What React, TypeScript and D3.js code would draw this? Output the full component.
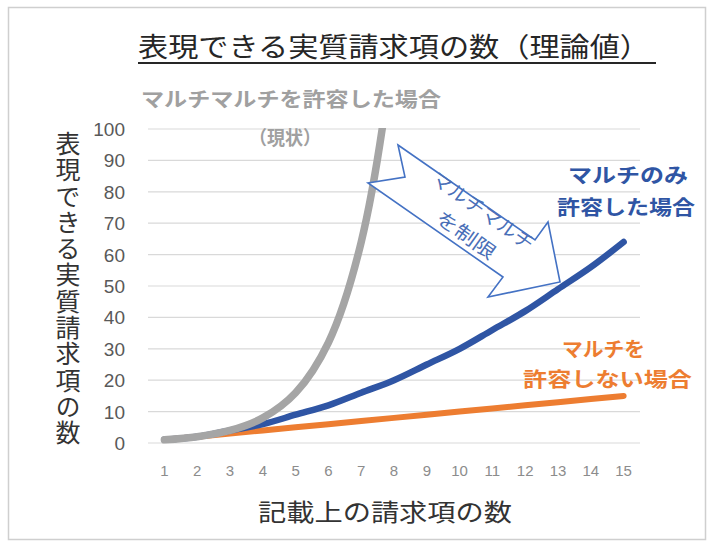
import React from "react";
import * as d3 from "d3";

const categories = ["1","2","3","4","5","6","7","8","9","10","11","12","13","14","15"];
const noMulti = [1,2,3,4,5,6,7,8,9,10,11,12,13,14,15];
const multiOnly = [1,2,4,6,9,12,16,20,25,30,36,42,49,56,64];
const multiMulti = [1,2,4,8,16,32,64,128,256,512,1024,2048,4096,8192,16384];
const yTicks = [0,10,20,30,40,50,60,70,80,90,100];

const title = "表現できる実質請求項の数（理論値）";
const yTitle = "表現できる実質請求項の数";
const xTitle = "記載上の請求項の数";

const JP = "'Noto Sans CJK JP', 'Noto Sans', sans-serif";
const NUM = "'Liberation Sans', Arial, sans-serif";

export default function App() {
  const W = 709, H = 544;
  const plot = { left: 148, right: 640, top: 129, bottom: 443 };
  const x = d3.scaleBand<string>().domain(categories).range([plot.left, plot.right]).padding(0);
  const cx = (c: string) => (x(c) as number) + x.bandwidth() / 2;
  const y = d3.scaleLinear().domain([0, 100]).range([plot.bottom, plot.top]);

  const mk = (vals: number[], curve: any) =>
    d3.line<number>().x((_, i) => cx(categories[i])).y((v) => y(v)).curve(curve)(vals) || "";

  const grayPath = mk(multiMulti, d3.curveCatmullRom.alpha(0.5));
  const bluePath = mk(multiOnly, d3.curveCatmullRom.alpha(0.5));
  const orangePath = mk(noMulti, d3.curveLinear);

  const arrowPts: [number, number][] = [
    [398, 145], [535, 240], [548, 222], [560, 282], [488, 297], [503, 277], [368, 183], [405, 177],
  ];

  return (
    <svg width={W} height={H} style={{ position: "absolute", left: 0, top: 0, background: "#fff" }}>
      <rect x={8.5} y={7.5} width={697} height={532} fill="#fff" stroke="#cfcfcf" strokeWidth={1.5} />
      {/* title */}
      <text x={138} y={57} fontFamily={JP} fontSize={27} fill="#262626" textLength={512} lengthAdjust="spacingAndGlyphs">{title}</text>
      <line x1={138} x2={656} y1={63} y2={63} stroke="#262626" strokeWidth={2} />

      {/* gridlines */}
      {yTicks.map((t) => (
        <line key={t} x1={plot.left} x2={plot.right} y1={y(t)} y2={y(t)} stroke="#d9d9d9" strokeWidth={1.2} />
      ))}
      {/* y tick labels */}
      {yTicks.map((t) => (
        <text key={"yl" + t} x={125} y={y(t) + 7} textAnchor="end" fontFamily={NUM} fontSize={19} fill="#595959">{t}</text>
      ))}
      {/* x tick labels */}
      {categories.map((c) => (
        <text key={"xl" + c} x={cx(c)} y={476} textAnchor="middle" fontFamily={NUM} fontSize={15} fill="#8c8c8c">{c}</text>
      ))}

      {/* y title vertical */}
      <text x={68} y={131} fontFamily={JP} fontSize={25} fill="#333" letterSpacing={1.3} style={{ writingMode: "vertical-rl" } as any}>{yTitle}</text>
      {/* x title */}
      <text x={385} y={521} textAnchor="middle" fontFamily={JP} fontSize={24} fill="#333" textLength={254} lengthAdjust="spacingAndGlyphs">{xTitle}</text>

      <defs>
        <clipPath id="plotclip">
          <rect x={plot.left - 10} y={plot.top - 1} width={plot.right - plot.left + 20} height={plot.bottom - plot.top + 20} />
        </clipPath>
      </defs>
      <g clipPath="url(#plotclip)" fill="none" strokeLinecap="round" strokeLinejoin="round">
        <path d={orangePath} stroke="#ed7d31" strokeWidth={6} />
        <path d={bluePath} stroke="#2f55a4" strokeWidth={6.5} />
        <path d={grayPath} stroke="#a5a5a5" strokeWidth={7.5} />
      </g>

      {/* arrow */}
      <polygon points={arrowPts.map((p) => p.join(",")).join(" ")} fill="#fff" stroke="#4472c4" strokeWidth={1.6} strokeLinejoin="miter" />
      <text transform="translate(483,211) rotate(35.5)" textAnchor="middle" dy={7} fontFamily={JP} fontSize={19} fill="#4a6fb8" textLength={120} lengthAdjust="spacingAndGlyphs">マルチマルチ</text>
      <text transform="translate(466,235) rotate(35.5)" textAnchor="middle" dy={7} fontFamily={JP} fontSize={19} fill="#4a6fb8" textLength={68} lengthAdjust="spacingAndGlyphs">を制限</text>

      {/* annotations */}
      <text x={141} y={107} fontFamily={JP} fontSize={20} fontWeight="bold" fill="#a0a0a0" textLength={300} lengthAdjust="spacingAndGlyphs">マルチマルチを許容した場合</text>
      <text x={249} y={145} fontFamily={JP} fontSize={19} fontWeight="bold" fill="#a0a0a0" textLength={72} lengthAdjust="spacingAndGlyphs">（現状）</text>

      <text x={568} y={183} fontFamily={JP} fontSize={20} fontWeight="bold" fill="#2f55a4" textLength={120} lengthAdjust="spacingAndGlyphs">マルチのみ</text>
      <text x={557} y={215} fontFamily={JP} fontSize={20} fontWeight="bold" fill="#2f55a4" textLength={138} lengthAdjust="spacingAndGlyphs">許容した場合</text>

      <text x={562} y={357} fontFamily={JP} fontSize={20} fontWeight="bold" fill="#ed7d31" textLength={83} lengthAdjust="spacingAndGlyphs">マルチを</text>
      <text x={523} y={387} fontFamily={JP} fontSize={20} fontWeight="bold" fill="#ed7d31" textLength={169} lengthAdjust="spacingAndGlyphs">許容しない場合</text>
    </svg>
  );
}
